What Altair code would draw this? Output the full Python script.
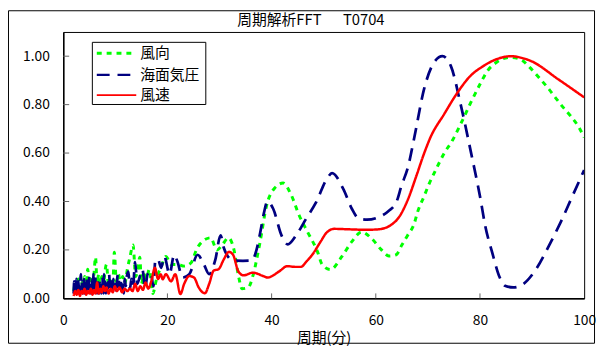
import altair as alt
import pandas as pd

FONT = "Noto Sans CJK JP"

series_names = ["風向", "海面気圧", "風速"]
series_colors = ["#00FF00", "#000080", "#FF0000"]
series_dashes = [[5, 5], [13, 8], [1, 0]]
series_widths = [3, 2.5, 2]

title_text = "周期解析FFT\u3000\u00a0\u00a0T0704"
x_title = "周期(分)"

# 風向 (wind direction)
wd_period = [2.0, 2.3, 2.6, 2.9, 3.2, 3.5, 3.8, 4.1, 4.4, 4.7, 5.0, 5.3, 5.6, 5.9, 6.2, 6.5, 6.8,
             7.1, 7.4, 7.7, 8.0, 8.3, 8.7, 9.1, 9.5, 9.8, 10.2, 10.6, 11.0, 11.4, 11.8, 12.3,
             12.8, 13.4, 13.9, 14.3, 14.7, 15.0, 15.5, 16.0, 16.5, 17.2, 17.8, 18.2, 18.8,
             19.7, 20.7, 22.0, 23.2, 24.5, 25.7, 27.0, 28.3, 29.5, 30.5, 31.7, 32.7, 33.7,
             34.3, 35.5, 36.5, 37.4, 37.8, 39.0, 40.6, 42.2, 43.7, 45.3, 46.9, 48.8, 49.7,
             51.3, 53.5, 55.4, 57.3, 59.2, 61.1, 62.5, 63.9, 65.0, 66.1, 67.4, 68.0, 69.3,
             70.3, 71.5, 73.1, 74.7, 76.3, 78.2, 80.1, 81.3, 83.2, 85.7, 87.6, 89.5, 91.4,
             93.0, 94.3, 95.8, 97.4, 99.0, 100.0]
wd_value = [0.03, 0.06, 0.02, 0.08, 0.04, 0.07, 0.03, 0.09, 0.05, 0.12, 0.04, 0.08, 0.03, 0.10,
            0.17, 0.06, 0.10, 0.04, 0.09, 0.05, 0.11, 0.14, 0.05, 0.08, 0.04, 0.19, 0.07, 0.10,
            0.05, 0.09, 0.06, 0.12, 0.17, 0.22, 0.09, 0.12, 0.17, 0.06, 0.10, 0.08, 0.12, 0.02,
            0.07, 0.10, 0.13, 0.173, 0.14, 0.14, 0.133, 0.146, 0.207, 0.24, 0.25, 0.20, 0.22,
            0.25, 0.207, 0.086, 0.04, 0.045, 0.10, 0.19, 0.234, 0.38, 0.456, 0.476, 0.43,
            0.342, 0.274, 0.193, 0.14, 0.119, 0.173, 0.234, 0.274, 0.247, 0.20, 0.175, 0.18,
            0.22, 0.26, 0.31, 0.355, 0.423, 0.476, 0.53, 0.598, 0.652, 0.72, 0.807, 0.888,
            0.935, 0.975, 0.995, 0.989, 0.955, 0.91, 0.87, 0.834, 0.793, 0.753, 0.706, 0.665]

# 海面気圧 (sea level pressure)
slp_period = [2.0, 2.1, 2.2, 2.3, 2.4, 2.5, 2.6, 2.7, 2.8, 2.9, 3.0, 3.1, 3.2, 3.3, 3.4, 3.5,
              3.6, 3.7, 3.8, 3.9, 4.0, 4.1, 4.2, 4.3, 4.4, 4.5, 4.6, 4.7, 4.8, 4.9, 5.0, 5.1,
              5.2, 5.3, 5.4, 5.5, 5.6, 5.7, 5.8, 5.9, 6.0, 6.1, 6.2, 6.3, 6.4, 6.5, 6.6, 6.7,
              6.8, 6.9, 7.0, 7.1, 7.2, 7.3, 7.4, 7.5, 7.6, 7.7, 7.8, 7.9, 8.0, 8.2, 8.4, 8.6,
              8.8, 9.0, 9.2, 9.4, 9.6, 9.8, 10.0, 10.2, 10.4, 10.6, 10.8, 11.0, 11.2, 11.4,
              11.6, 11.8, 12.0, 12.2, 12.5, 12.8, 13.1, 13.4, 13.8, 14.2, 14.7, 15.2, 15.7,
              16.2, 16.8, 17.3, 17.7, 18.2, 18.8,
              19.4, 20.4, 21.3, 21.9, 22.9, 24.2, 25.8, 27.0, 28.0, 29.2, 30.2, 30.8, 31.7,
              32.7, 34.5, 36.2, 37.1, 37.8, 38.5, 39.2, 40.3, 41.9, 43.1, 44.7, 46.6, 48.5,
              50.7, 51.6, 53.8, 55.4, 56.7, 58.3, 60.5, 62.4, 64.0, 64.9, 66.2, 67.4, 69.3,
              71.2, 72.8, 74.4, 76.3, 78.2, 80.1, 81.0, 82.3, 83.8, 84.8, 86.4, 88.3, 90.5,
              93.3, 95.5, 97.7, 100.0]
slp_value = [0.02, 0.07, 0.03, 0.06, 0.02, 0.08, 0.03, 0.05, 0.02, 0.07, 0.04, 0.06, 0.02,
             0.08, 0.10, 0.03, 0.07, 0.02, 0.06, 0.04, 0.08, 0.02, 0.07, 0.03, 0.06, 0.02,
             0.08, 0.04, 0.06, 0.02, 0.09, 0.03, 0.07, 0.02, 0.06, 0.04, 0.08, 0.02, 0.10,
             0.04, 0.07, 0.02, 0.09, 0.03, 0.06, 0.02, 0.08, 0.04, 0.06, 0.02, 0.08, 0.03,
             0.07, 0.02, 0.06, 0.04, 0.09, 0.02, 0.10, 0.04, 0.07, 0.02, 0.08, 0.04, 0.10,
             0.03, 0.07, 0.02, 0.08, 0.04, 0.06, 0.02, 0.09, 0.10, 0.04, 0.08, 0.03, 0.07,
             0.02, 0.08, 0.05, 0.09, 0.11, 0.04, 0.08, 0.05, 0.15, 0.06, 0.09, 0.12, 0.04,
             0.10, 0.11, 0.05, 0.16, 0.16, 0.126,
             0.173, 0.10, 0.18, 0.153, 0.086, 0.10, 0.18, 0.14, 0.10, 0.16,
             0.26, 0.21, 0.17, 0.156, 0.155, 0.156, 0.20, 0.27, 0.35, 0.40, 0.37, 0.26, 0.223,
             0.26, 0.328, 0.395, 0.497, 0.517, 0.45, 0.37, 0.33, 0.325, 0.335, 0.36, 0.40,
             0.463, 0.544, 0.665, 0.867, 0.975, 1.0, 0.96, 0.80, 0.61, 0.41, 0.30, 0.193,
             0.086, 0.052, 0.045, 0.059, 0.112, 0.22, 0.315, 0.42, 0.53]

# 風速 (wind speed)
ws_period = [2.0, 2.3, 2.6, 2.9, 3.2, 3.5, 3.8, 4.1, 4.4, 4.7, 5.0, 5.3, 5.6, 5.9, 6.2, 6.5,
             6.8, 7.1, 7.4, 7.7, 8.0, 8.3, 8.7, 9.1, 9.5, 9.9, 10.3, 10.8, 11.3, 11.8, 12.3,
             12.8, 13.3, 13.8, 14.3, 14.8, 15.3, 15.8, 16.3, 16.9, 17.6, 18.2, 18.7, 19.1,
             19.7, 20.7, 21.5, 22.5, 23.2, 24.2, 25.1, 26.0, 27.2, 28.0, 28.9, 29.8, 30.8,
             31.8, 32.6, 33.6, 34.6, 36.4, 38.4, 39.2, 41.5, 43.0, 44.5, 45.6, 46.8, 47.8,
             49.4, 50.5, 52.0, 55.0, 58.0, 60.5, 61.7, 62.7, 64.6, 66.2, 67.7, 69.3, 70.5,
             73.1, 75.6, 78.0, 80.7, 83.5, 86.0, 88.0, 89.8, 95.0, 100.0]
ws_value = [0.01, 0.03, 0.015, 0.035, 0.01, 0.03, 0.02, 0.04, 0.015, 0.03, 0.02, 0.04, 0.015,
            0.035, 0.02, 0.065, 0.02, 0.04, 0.025, 0.05, 0.03, 0.045, 0.02, 0.04, 0.025, 0.05,
            0.03, 0.045, 0.025, 0.04, 0.03, 0.04, 0.03, 0.06, 0.03, 0.05, 0.035, 0.065, 0.04,
            0.07, 0.126, 0.08, 0.10, 0.079, 0.10, 0.07, 0.10, 0.018, 0.059, 0.092, 0.086,
            0.045, 0.021, 0.059, 0.115, 0.12, 0.16, 0.192, 0.18, 0.112, 0.095, 0.106, 0.092,
            0.086, 0.112, 0.133, 0.13, 0.13, 0.155, 0.18, 0.234, 0.27, 0.287, 0.285, 0.283,
            0.285, 0.29, 0.30, 0.34, 0.41, 0.50, 0.60, 0.665, 0.76, 0.847, 0.915, 0.96, 0.99,
            1.0, 0.993, 0.98, 0.905, 0.83]

x_ticks = [0, 20, 40, 60, 80, 100]
y_ticks = [0.0, 0.2, 0.4, 0.6, 0.8, 1.0]
inner_x_ticks = [20, 40, 60, 80]
inner_y_ticks = [0.2, 0.4, 0.6, 0.8, 1.0]

W, H = 528, 270
PAD = {"left": 56, "top": 22, "right": 12, "bottom": 46}

frames = []
for name, per, val in [(series_names[0], wd_period, wd_value),
                       (series_names[1], slp_period, slp_value),
                       (series_names[2], ws_period, ws_value)]:
    frames.append(pd.DataFrame({"period": per, "value": val, "series": name}))
df = pd.concat(frames, ignore_index=True)

x_enc = alt.X("period:Q",
              scale=alt.Scale(domain=[0, 100], nice=False, zero=False),
              axis=alt.Axis(values=x_ticks, format="d", title=x_title, ticks=False,
                            grid=False, labelPadding=16, titlePadding=3,
                            labelFont=FONT, labelFontSize=14, labelColor="black",
                            titleFont=FONT, titleFontSize=15, titleFontWeight="normal",
                            titleColor="black", domainColor="black", domainWidth=1.5,
                            labelFlush=False))
y_enc = alt.Y("value:Q",
              scale=alt.Scale(domain=[0, 1.1], nice=False, zero=False),
              axis=alt.Axis(values=y_ticks, format=".2f", title=None, ticks=False,
                            grid=False, labelPadding=14, labelFont=FONT, labelFontSize=14,
                            labelColor="black", domainColor="black", domainWidth=1.5))

color_enc = alt.Color("series:N", scale=alt.Scale(domain=series_names, range=series_colors),
                      legend=None)
dash_enc = alt.StrokeDash("series:N", scale=alt.Scale(domain=series_names, range=series_dashes),
                          legend=None)
width_enc = alt.StrokeWidth("series:N", scale=alt.Scale(domain=series_names, range=series_widths),
                            legend=None)

layers = []
for name in series_names:
    layers.append(
        alt.Chart(df).transform_filter(alt.datum.series == name)
        .mark_line(interpolate="monotone", clip=True)
        .encode(x=x_enc, y=y_enc, color=color_enc, strokeDash=dash_enc, strokeWidth=width_enc)
    )

xt = alt.Chart(pd.DataFrame({"period": inner_x_ticks})).mark_rule(color="#666", strokeWidth=1).encode(
    x=alt.X("period:Q"), y=alt.value(H), y2=alt.value(H - 5))
yt = alt.Chart(pd.DataFrame({"value": inner_y_ticks})).mark_rule(color="#666", strokeWidth=1).encode(
    y=alt.Y("value:Q"), x=alt.value(0), x2=alt.value(6))

one = pd.DataFrame({"a": [0]})

frame = alt.Chart(one).mark_rect(fill="transparent", stroke="black", strokeWidth=1).encode(
    x=alt.value(-PAD["left"] + 0.5), x2=alt.value(W + PAD["right"] - 1.5),
    y=alt.value(-PAD["top"] + 0.5), y2=alt.value(H + PAD["bottom"] - 0.5))

title = alt.Chart(pd.DataFrame({"t": [title_text]})).mark_text(
    font=FONT, fontSize=15, color="black", baseline="middle", align="center").encode(
    text="t:N", x=alt.value(W / 2 - 13), y=alt.value(-12))

# hand-drawn legend box (Excel style, inside the plot area)
LX0, LX1, LY0, LY1 = 29, 144, 10, 73
legend_rows = [21.5, 43.5, 64]
legend_layers = [
    alt.Chart(one).mark_rect(fill="white", stroke="black", strokeWidth=1).encode(
        x=alt.value(LX0 + 0.5), x2=alt.value(LX1 + 0.5), y=alt.value(LY0 + 0.5), y2=alt.value(LY1 + 0.5))
]
for name, col, dash, sw, ry in zip(series_names, series_colors, series_dashes, series_widths, legend_rows):
    legend_layers.append(
        alt.Chart(one).mark_rule(color=col, strokeWidth=sw, strokeDash=dash).encode(
            x=alt.value(LX0 + 5), x2=alt.value(LX0 + 45), y=alt.value(ry)))
    legend_layers.append(
        alt.Chart(pd.DataFrame({"t": [name]})).mark_text(
            font=FONT, fontSize=15, color="black", align="left", baseline="middle").encode(
            text="t:N", x=alt.value(LX0 + 49), y=alt.value(ry)))

chart = alt.layer(frame, *layers, xt, yt, title, *legend_layers).properties(
    width=W, height=H,
    padding=PAD,
    autosize=alt.AutoSizeParams(type="none"),
    background="white",
).configure_view(stroke="black", strokeWidth=1)

chart.save("out.html", embed_options={"renderer": "svg", "actions": False})
